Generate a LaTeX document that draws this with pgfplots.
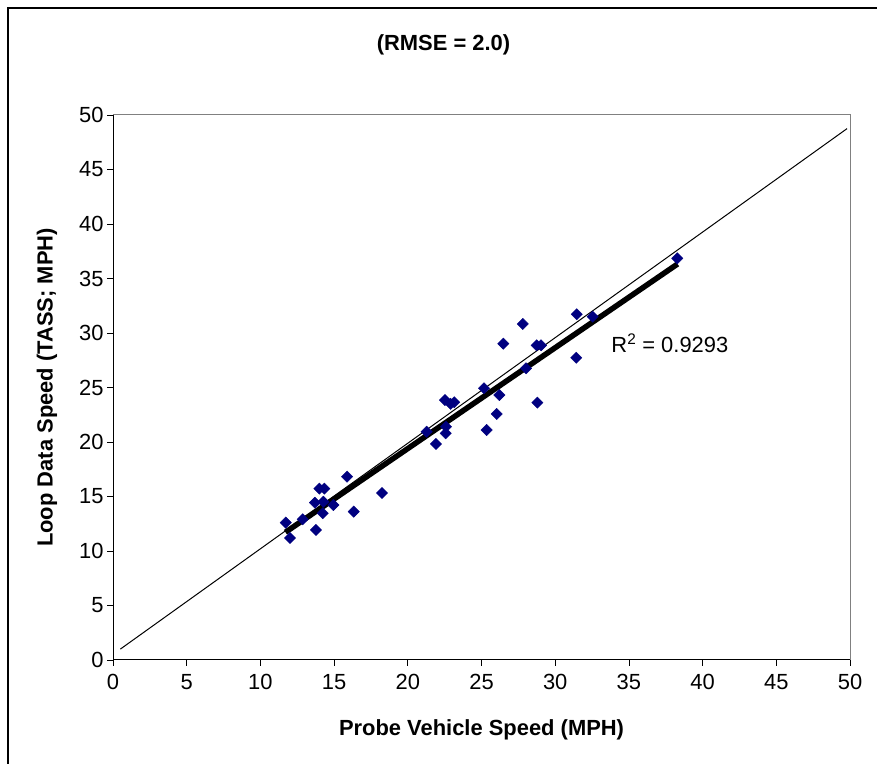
\documentclass[border=0pt]{standalone}
\usepackage{fontspec}
\setmainfont{Liberation Sans}
\usepackage{pgfplots}
\pgfplotsset{compat=1.18}
\definecolor{ptnavy}{HTML}{000080}
\definecolor{framegray}{HTML}{808080}

\begin{document}
\begin{tikzpicture}[x=1bp,y=1bp]
\useasboundingbox (0,0) rectangle (877,764);
% outer chart frame (cut off at right and bottom)
\draw[line width=1.2bp] (8,0) -- (8,756) -- (877,756);
\node[font=\fontsize{22}{26}\selectfont\bfseries] at (443.5,719) {(RMSE = 2.0)};
\begin{axis}[
    at={(113bp,104bp)}, anchor=south west,
    width=737bp, height=545bp, scale only axis,
    xmin=0, xmax=50, ymin=0, ymax=50,
    xtick={0,5,...,50}, ytick={0,5,...,50},
    xtick pos=bottom, ytick pos=left,
    tick align=outside, major tick length=6bp,
    tick style={black, line width=0.8bp},
    axis line style={framegray, line width=1bp},
    ticklabel style={font=\fontsize{22}{26}\selectfont},
    xticklabel style={yshift=-5bp},
    /pgf/number format/assume math mode=true,
    xlabel={Probe Vehicle Speed (MPH)},
    ylabel={Loop Data Speed (TASS; MPH)},
    xlabel style={font=\fontsize{22}{26}\selectfont\bfseries,
        at={(axis description cs:0.5,-0.1389)}, anchor=base},
    ylabel style={font=\fontsize{22}{26}\selectfont\bfseries,
        at={(axis description cs:-0.0896,0.5)}, anchor=center},
]
\addplot[only marks, mark=square*, mark size=4bp,
    mark options={rotate=45, fill=ptnavy, draw=ptnavy}] coordinates {
    (11.72,12.60) (12.01,11.19) (12.87,12.91) (13.77,11.93) (13.70,14.43)
    (14.00,15.72) (14.34,15.72) (14.27,14.52) (14.23,13.46) (14.95,14.22)
    (15.88,16.82) (16.33,13.61) (18.25,15.32) (21.28,20.94) (21.91,19.82)
    (22.57,20.80) (22.59,21.40) (22.52,23.85) (22.90,23.50) (23.15,23.65)
    (25.17,24.93) (25.35,21.10) (26.21,24.31) (26.03,22.57) (26.48,29.02)
    (27.80,30.83) (28.02,26.76) (28.74,28.87) (29.04,28.87) (28.79,23.61)
    (31.46,31.72) (31.43,27.73) (32.54,31.50) (38.28,36.85)
};
% reference line
\addplot[black, line width=1bp] coordinates {(0.5,1.0) (49.8,48.75)};
% linear trendline
\addplot[black, line width=5.5bp] coordinates {(11.7,11.72) (38.3,36.33)};
\node[anchor=base west, inner sep=0, font=\fontsize{22}{26}\selectfont]
    at (axis cs:33.8,28.23) {R\textsuperscript{2} = 0.9293};
% black value axes over the grey plot-area border
\draw[black, line width=1bp] (rel axis cs:0,1) -- (rel axis cs:0,0) -- (rel axis cs:1,0);
\end{axis}
\end{tikzpicture}
\end{document}
